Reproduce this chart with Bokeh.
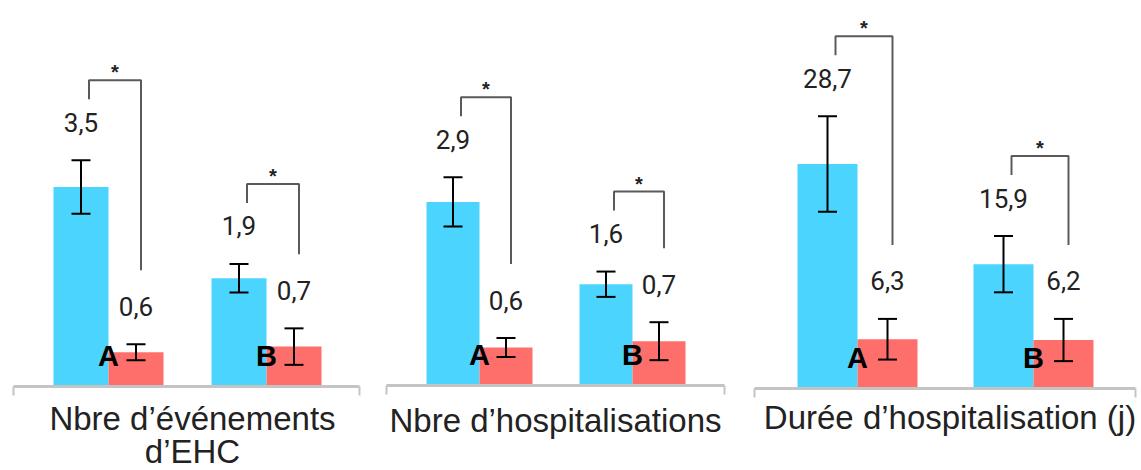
from bokeh.plotting import figure
from bokeh.layouts import row
from bokeh.models import Range1d, ColumnDataSource, Whisker, TeeHead
from bokeh.core.properties import value
from bokeh.embed import file_html
from bokeh.resources import INLINE

# ---- data ---------------------------------------------------------------
groups = ["A", "B"]

# Nbre d'événements d'EHC
ehc_blue = [3.5, 1.9]
ehc_red = [0.6, 0.7]
ehc_blue_err = [0.47, 0.25]
ehc_red_err = [0.14, 0.32]

# Nbre d'hospitalisations
hosp_blue = [2.9, 1.6]
hosp_red = [0.6, 0.7]
hosp_blue_err = [0.39, 0.20]
hosp_red_err = [0.15, 0.30]

# Durée d'hospitalisation (j)
duree_blue = [28.7, 15.9]
duree_red = [6.3, 6.2]
duree_blue_err = [6.1, 3.6]
duree_red_err = [2.6, 2.7]

titles = [
    ["Nbre d’événements", "d’EHC"],
    ["Nbre d’hospitalisations"],
    ["Durée d’hospitalisation (j)"],
]
significance = ["*", "*"]

# ---- layout / style -----------------------------------------------------
H = 470
widths = [372, 367, 402]
base_px = [386, 385, 388]          # baseline row from top
px_per_unit = [57.0, 63.3, 7.82]   # vertical scale of each panel
group_px = [158, 153, 176]         # distance between the two group centres
first_group_px = [108, 107, 118]   # left edge -> centre of group A
bar_px = [55, 53, 60]
axis_pad = [(13, 13), (14, 15), (15, 6)]
title_gap = [32, 35, 29]
title_shift = [6, 0, 5]

BLUE = "#4BD4FD"
RED = "#FE6F6B"
TEXT = "#222222"
BRACKET = "#5a5a5a"
AXIS = "#c4c4c4"


def fmt(v):
    return f"{v:.1f}".replace(".", ",")


def panel(i, blue, red, blue_err, red_err, title_lines):
    W = widths[i]
    ppu = px_per_unit[i]
    b = base_px[i]
    s = group_px[i]
    a = first_group_px[i]

    def dx(px):
        return px / s

    def dy(px):
        return px / ppu

    p = figure(
        width=W, height=H,
        x_range=Range1d(-a / s, (W - a) / s),
        y_range=Range1d(-(H - b) / ppu, b / ppu),
        output_backend="svg", toolbar_location=None,
        x_axis_location=None, y_axis_location=None,
        min_border=0, outline_line_color=None,
        background_fill_color="white", border_fill_color="white",
    )
    p.grid.visible = False

    bw = dx(bar_px[i])
    gx = list(range(len(groups)))
    xb = [g - bw / 2 for g in gx]
    xr = [g + bw / 2 for g in gx]

    p.vbar(x=xb, top=blue, bottom=0, width=bw, fill_color=BLUE, line_color=None)
    p.vbar(x=xr, top=red, bottom=0, width=bw, fill_color=RED, line_color=None)

    # baseline with end ticks
    ax0 = -a / s + dx(axis_pad[i][0])
    ax1 = (W - a) / s - dx(axis_pad[i][1])
    p.segment(x0=[ax0], y0=[0], x1=[ax1], y1=[0], line_color=AXIS, line_width=3)
    p.segment(x0=[ax0, ax1], y0=[0, 0], x1=[ax0, ax1], y1=[-dy(9)] * 2,
              line_color=AXIS, line_width=2)

    # error bars
    for xs, vals, errs in ((xb, blue, blue_err), (xr, red, red_err)):
        src = ColumnDataSource(dict(
            x=xs,
            upper=[v + e for v, e in zip(vals, errs)],
            lower=[v - e for v, e in zip(vals, errs)],
        ))
        w = Whisker(source=src, base="x", upper="upper", lower="lower",
                    dimension="height", line_color="black", line_width=2,
                    level="overlay",
                    upper_head=TeeHead(size=19, line_color="black", line_width=2),
                    lower_head=TeeHead(size=19, line_color="black", line_width=2))
        p.add_layout(w)

    # value labels
    yb_lab = [v + e + dy(38) for v, e in zip(blue, blue_err)]
    yr_lab = [v + e + dy(38) for v, e in zip(red, red_err)]
    p.text(x=xb + xr, y=yb_lab + yr_lab, text=[fmt(v) for v in blue + red],
           text_align="center", text_baseline="middle",
           text_font=value("Roboto"), text_font_size="26px", text_color=TEXT)

    # significance brackets
    xs_br, ys_br, star_x, star_y = [], [], [], []
    for k in gx:
        top = yb_lab[k] + dy(42)
        lx = xb[k] + dx(8)
        rx = xr[k] + dx(5)
        xs_br.append([lx, lx, rx, rx])
        ys_br.append([top - dy(19), top, top, yr_lab[k] + dy(36)])
        star_x.append((lx + rx) / 2)
        star_y.append(top + dy(8))
    p.multi_line(xs=xs_br, ys=ys_br, line_color=BRACKET, line_width=2)
    p.text(x=star_x, y=star_y, text=significance, text_align="center",
           text_baseline="alphabetic", text_font=value("Liberation Sans"),
           text_font_style="bold", text_font_size="20px", text_color=TEXT)

    # group letters
    p.text(x=gx, y=[dy(31)] * len(gx), text=groups, text_align="center",
           text_baseline="middle", text_font=value("Liberation Sans"),
           text_font_style="bold", text_font_size="29px", text_color="black")

    # panel title under the baseline
    cx = (ax0 + ax1) / 2 + dx(title_shift[i])
    p.text(x=[cx] * len(title_lines),
           y=[-dy(title_gap[i] + 33 * n) for n in range(len(title_lines))],
           text=title_lines, text_align="center", text_baseline="middle",
           text_font=value("Liberation Sans"), text_font_size="33px",
           text_color=TEXT)
    return p


p1 = panel(0, ehc_blue, ehc_red, ehc_blue_err, ehc_red_err, titles[0])
p2 = panel(1, hosp_blue, hosp_red, hosp_blue_err, hosp_red_err, titles[1])
p3 = panel(2, duree_blue, duree_red, duree_blue_err, duree_red_err, titles[2])

layout = row(p1, p2, p3, spacing=0)
open("out.html", "w").write(file_html(layout, INLINE))
